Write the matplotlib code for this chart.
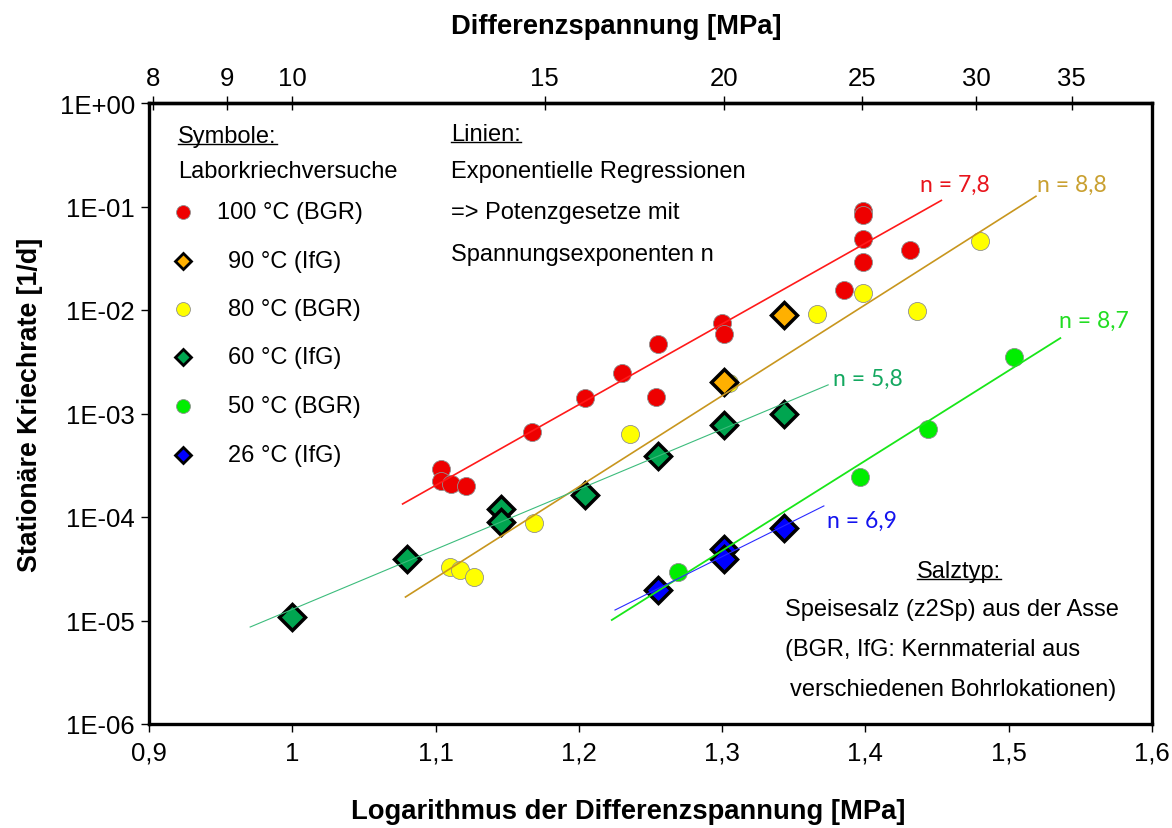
import numpy as np
import matplotlib
matplotlib.use("Agg")
import matplotlib.pyplot as plt
from matplotlib.lines import Line2D
from matplotlib.transforms import IdentityTransform

plt.rcParams['font.family'] = ['Liberation Sans', 'DejaVu Sans']

# log10 der Differenzspannung [MPa] / stationaere Kriechrate [1/d]
x_100 = [1.104, 1.1035, 1.111, 1.121, 1.167, 1.204, 1.230, 1.255, 1.254, 1.300, 1.301,
         1.385, 1.398, 1.398, 1.398, 1.398, 1.431]
y_100 = [2.9e-4, 2.23e-4, 2.08e-4, 2.0e-4, 6.6e-4, 1.41e-3, 2.46e-3, 4.7e-3, 1.44e-3, 7.5e-3, 5.8e-3,
         1.56e-2, 9.05e-2, 8.3e-2, 4.85e-2, 2.9e-2, 3.8e-2]

x_90 = [1.301, 1.343]
y_90 = [2.0e-3, 8.95e-3]

x_80 = [1.110, 1.117, 1.127, 1.169, 1.236, 1.305, 1.366, 1.398, 1.436, 1.480]
y_80 = [3.29e-5, 3.07e-5, 2.63e-5, 8.7e-5, 6.3e-4, 1.97e-3, 9.1e-3, 1.46e-2, 9.8e-3, 4.65e-2]

x_60 = [1.000, 1.080, 1.146, 1.146, 1.204, 1.255, 1.301, 1.343]
y_60 = [1.08e-5, 3.93e-5, 1.19e-4, 8.95e-5, 1.63e-4, 3.88e-4, 7.74e-4, 9.9e-4]

x_50 = [1.269, 1.3965, 1.444, 1.504]
y_50 = [2.94e-5, 2.43e-4, 7.1e-4, 3.52e-3]

x_26 = [1.255, 1.301, 1.301, 1.343]
y_26 = [1.97e-5, 4.9e-5, 3.93e-5, 7.8e-5]

# Regressionsgeraden: Startpunkt (log), Ende, Spannungsexponent n
fit_n = [7.8, 8.8, 5.8, 8.7, 6.9]
fit_x0 = [1.077, 1.079, 0.9706, 1.223, 1.2252]
fit_x1 = [1.453, 1.519, 1.374, 1.536, 1.371]
fit_y0 = [-3.874, -4.773, -5.063, -4.995, -4.899]
fit_colors = ['#ff1a1a', '#c8961e', '#3cbc7c', '#19e619', '#2a2aff']
fit_lw = [1.2, 1.2, 0.8, 1.3, 0.8]
n_label_pos = [(920, 185), (1037, 185), (833, 379), (1059, 321), (827, 521)]
n_label_colors = ['#e8141c', '#c9a030', '#14a860', '#22dd22', '#1414ee']

top_ticks = [8, 9, 10, 15, 20, 25, 30, 35]
bottom_ticks = [0.9, 1.0, 1.1, 1.2, 1.3, 1.4, 1.5, 1.6]
bottom_labels = ['0,9', '1', '1,1', '1,2', '1,3', '1,4', '1,5', '1,6']
y_exp = [-6, -5, -4, -3, -2, -1, 0]
y_labels = ['1E-06', '1E-05', '1E-04', '1E-03', '1E-02', '1E-01', '1E+00']

W, H = 1172, 829
fig = plt.figure(figsize=(W / 100, H / 100), dpi=100)
ax = fig.add_axes([149 / W, 1 - 725 / H, 1003 / W, 621 / H])
ax.set_xlim(0.9, 1.6)
ax.set_yscale('log')
ax.set_ylim(1e-6, 1)

# Messpunkte
circle = dict(linestyle='none', marker='o', ms=13, mec='#909090', mew=0.6, zorder=4)
diamond = dict(linestyle='none', marker='D', ms=13, mec='black', mew=2.5, zorder=4)
ax.plot(x_100, y_100, mfc='#ee0000', **circle)
ax.plot(x_80, y_80, mfc='#ffff00', **circle)
ax.plot(x_50, y_50, mfc='#00ee00', **circle)
ax.plot(x_60, y_60, mfc='#00a550', **diamond)
ax.plot(x_90, y_90, mfc='#ffb000', **diamond)
ax.plot(x_26, y_26, mfc='#0000ff', **diamond)

# Regressionsgeraden mit Exponent n
for n, xa, xb, ya, c, lw, pos, lc in zip(fit_n, fit_x0, fit_x1, fit_y0, fit_colors,
                                         fit_lw, n_label_pos, n_label_colors):
    xs = np.array([xa, xb])
    ax.plot(xs, 10 ** (ya + n * (xs - xa)), color=c, lw=lw, zorder=5)
    fig.text(pos[0] / W, 1 - pos[1] / H, 'n = ' + str(n).replace('.', ','), color=lc,
             fontsize=16.5, family=['Lato', 'DejaVu Sans'], ha='left', va='center')

ax.set_xticks(bottom_ticks)
ax.set_xticklabels(bottom_labels)
ax.set_yticks([10.0 ** e for e in y_exp])
ax.set_yticklabels(y_labels)
ax.minorticks_off()
ax.tick_params(labelsize=18.5, length=6, width=1, direction='out', pad=6)
ax.tick_params(axis='y', pad=4)
for s in ax.spines.values():
    s.set_linewidth(2.4)

secax = ax.secondary_xaxis('top', functions=(lambda x: 10 ** x, np.log10))
secax.set_xticks(top_ticks)
secax.set_xticklabels([str(t) for t in top_ticks])
secax.minorticks_off()
secax.tick_params(labelsize=18.5, length=10, width=1, direction='inout', pad=4)
secax.spines['top'].set_linewidth(2.4)

fig.text(628 / W, 1 - 812 / H, 'Logarithmus der Differenzspannung [MPa]',
         fontsize=19.7, fontweight='bold', ha='center', va='center')
fig.text(616 / W, 1 - 27 / H, 'Differenzspannung [MPa]',
         fontsize=19.7, fontweight='bold', ha='center', va='center')
fig.text(30 / W, 1 - 405 / H, 'Stationäre Kriechrate [1/d]', rotation=90,
         fontsize=19.3, fontweight='bold', ha='center', va='center')

# Symbol-Legende
leg_labels = ['100 °C (BGR)', '90 °C (IfG)', '80 °C (BGR)', '60 °C (IfG)', '50 °C (BGR)', '26 °C (IfG)']
leg_x = [217, 228, 228, 228, 228, 228]
leg_y = [213, 262, 310, 358, 407, 456]
leg_style = [('o', '#ee0000', '#909090', 0.6), ('D', '#ffb000', 'black', 2.0),
             ('o', '#ffff00', '#909090', 0.6), ('D', '#00a550', 'black', 2.0),
             ('o', '#00ee00', '#909090', 0.6), ('D', '#0000ff', 'black', 2.0)]
for lab, lx, ly, (m, fc, ec, mw) in zip(leg_labels, leg_x, leg_y, leg_style):
    fig.add_artist(Line2D([183 / W], [1 - ly / H], marker=m, ms=10 if m == 'o' else 8,
                          mfc=fc, mec=ec, mew=mw, linestyle='none'))
    fig.text(lx / W, 1 - ly / H, lab, fontsize=17, ha='left', va='center')

underlined = []
underlined.append(fig.text(178 / W, 1 - 137 / H, 'Symbole:', fontsize=17, va='center'))
fig.text(178 / W, 1 - 172 / H, 'Laborkriechversuche', fontsize=17, va='center')
underlined.append(fig.text(451 / W, 1 - 135 / H, 'Linien:', fontsize=17, va='center'))
fig.text(451 / W, 1 - 172 / H, 'Exponentielle Regressionen', fontsize=17, va='center')
fig.text(451 / W, 1 - 213 / H, '=> Potenzgesetze mit', fontsize=17, va='center')
fig.text(451 / W, 1 - 255 / H, 'Spannungsexponenten n', fontsize=17, va='center')

underlined.append(fig.text(959 / W, 1 - 572 / H, 'Salztyp:', fontsize=17, ha='center', va='center'))
fig.text(785 / W, 1 - 610 / H, 'Speisesalz (z2Sp) aus der Asse', fontsize=17, va='center')
fig.text(785 / W, 1 - 650 / H, '(BGR, IfG: Kernmaterial aus', fontsize=17, va='center')
fig.text(790 / W, 1 - 690 / H, 'verschiedenen Bohrlokationen)', fontsize=17, va='center')

# Unterstreichungen
fig.canvas.draw()
for t in underlined:
    bb = t.get_window_extent()
    y = bb.y0 + 3
    fig.add_artist(Line2D([bb.x0, bb.x1], [y, y], color='black', lw=1.0,
                          transform=IdentityTransform()))

fig.savefig('out.png', dpi=100, facecolor='white')
